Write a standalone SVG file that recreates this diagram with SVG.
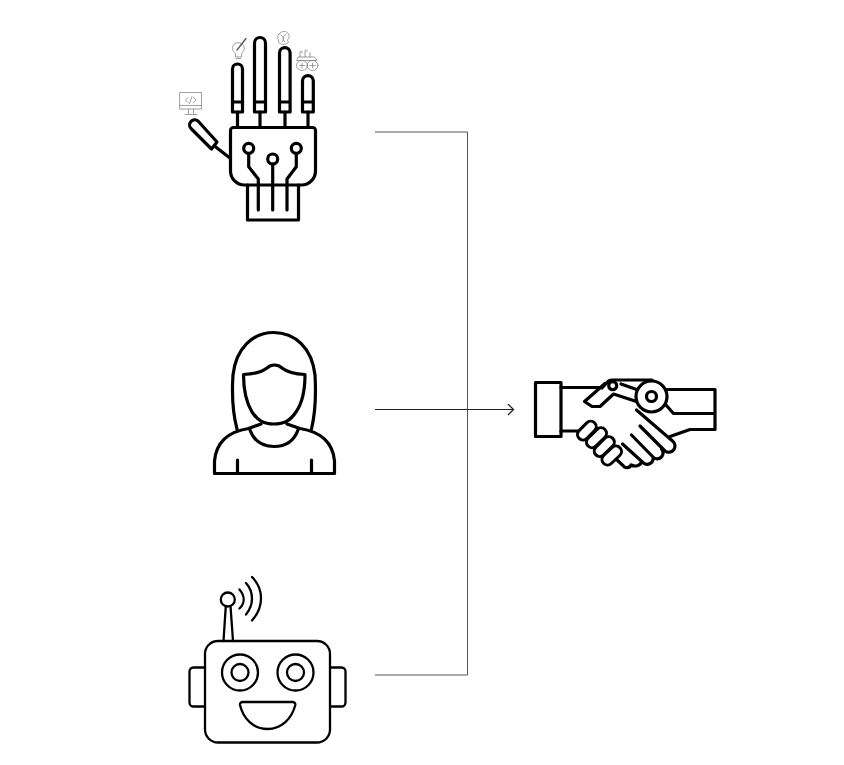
<svg xmlns="http://www.w3.org/2000/svg" width="844" height="765" viewBox="0 0 844 765">
<style>
.i{fill:none;stroke:#000;stroke-width:3.2;stroke-linecap:round;stroke-linejoin:round}
.t{fill:none;stroke:#000;stroke-width:2.3;stroke-linecap:round;stroke-linejoin:round}
.s{fill:none;stroke:#777;stroke-width:.7;stroke-linecap:round;stroke-linejoin:round}
.c{fill:none;stroke:#555;stroke-width:1}
.o{fill:none;stroke:#000;stroke-width:14;stroke-linecap:round}
.w{fill:none;stroke:#fff;stroke-width:8;stroke-linecap:round}
</style>
<defs>
<marker id="arrow" markerWidth="10" markerHeight="12" refX="7" refY="6" orient="auto" markerUnits="userSpaceOnUse"><path d="M2 .5L7.500 6L2 11.500" fill="none" stroke="#222" stroke-width="1.300"/></marker>
</defs>
<rect width="844" height="765" fill="#fff"/>
<g id="connectors">
<path class="c" d="M375 132H467.500V675H375"/>
<path class="c" d="M375 409.500H513" style="stroke:#222" marker-end="url(#arrow)"/>
</g>
<g id="node-hand">
<path class="i" d="M232.500 112V69a5 5 0 0 1 10 0V112ZM232.500 102H242.700"/>
<path class="i" d="M254.500 112V43a5.500 5.500 0 0 1 11 0V112ZM254.500 102H265.500"/>
<path class="i" d="M279.500 112V53a5.300 5.300 0 0 1 10.600 0V112ZM279.500 102H290.100"/>
<path class="i" d="M302.500 112V81a5.400 5.400 0 0 1 10.800 0V112ZM302.500 102H313.300"/>
<path class="i" d="M237.500 112V127.500M260 112V127.500M285 112V127.500M308 112V127.500"/>
<path class="i" d="M233.500 127.500H312.500a3 3 0 0 1 3 3V171a14 14 0 0 1-14 14H244.500a14 14 0 0 1-14-14V130.500a3 3 0 0 1 3-3Z"/>
<path class="i" d="M247.500 185V220H298.500V185"/>
<circle class="i" cx="248.700" cy="148.300" r="5"/><circle class="i" cx="272.700" cy="159" r="5"/><circle class="i" cx="296.300" cy="148.300" r="5"/>
<path class="i" d="M248.700 153.500V166.700L258.300 179V210M272.700 164V210M296.300 153.500V166.700L287 179V210"/>
<path class="i" d="M198 121L217 142L211.500 149L191.500 129a5 5 0 0 1 6.500-8Z"/>
<path class="i" d="M214.500 146L230.500 158.500"/>
<path class="s" d="M180 92.500H201.500V109H180ZM180 105.500H201.500M188.500 109V113.500M193.500 109V113.500M185 114.500H197M188 97.500L185.500 100L188 102.500M193.500 97.500L196 100L193.500 102.500M192 96.500L189.500 103.500"/>
<path class="s" d="M235.500 56.500V53.500C233 51 231.500 48.500 233 45.500C235 42 241 41.500 243.500 45.500C245 48.500 244 51 241.500 53.500V56.500ZM236 58.500H241"/>
<path d="M237 50L246 38.500" fill="none" stroke="#555" stroke-width="1.300" stroke-linecap="round"/>
<path class="s" d="M279 34C282 30 287 31 288.500 34C290 37 289 39 287 40C290 42 287 45 284 44C281 45 278 43 278.500 40C277 38 277.500 35 279 34ZM281 35C284 37 284 40 282 42M286 34C283 36 282 39 285 42"/>
<path class="s" d="M300 57V52C301 50 302 51 302 53M305 57V50.500C306 49 307 50 307 52M310 57V52.500M298.500 57H314.500L317 60.500H297Z"/>
<ellipse class="s" cx="302" cy="65.500" rx="5.500" ry="5"/><ellipse class="s" cx="312.500" cy="65.500" rx="5.500" ry="5"/><path class="s" d="M299.500 65.500H304.500M302 63V68M310 65.500H315M312.500 63V68"/>
</g>
<g id="node-person">
<path class="i" d="M237 429C232 410 232 390 233 375C236 348 253 332.500 273.500 332.500C295 332.500 312 348 315 375C316 392 316 410 311.500 429"/>
<path class="i" d="M243.500 374.500C255 374 262 372 267 368C271 364 278 364 282 368C287 372 294 374 305 374.500C305 388 303 402 296 412C290 421 284 424 274 424C264 424 258 421 252 412C246 402 243.500 388 243.500 374.500Z"/>
<path class="i" d="M261 424L248.500 428.500C226 432 216 444 214.500 461V473.500H334.500V461C333 444 322 432 300 428.500L287 424"/>
<path class="i" d="M250 430C254 441 263 446.500 274 446.500C285 446.500 294 441 298 430M237.500 460V473M311.500 460V473"/>
</g>
<g id="node-robot">
<rect class="t" x="205" y="641" width="125" height="101.500" rx="13"/>
<path class="t" d="M205 667.500H193.500a4 4 0 0 0-4 4V702.500a4 4 0 0 0 4 4H205M330 667.500H341.500a4 4 0 0 1 4 4V702.500a4 4 0 0 1-4 4H330"/>
<circle class="t" cx="240" cy="672.500" r="18"/><circle class="t" cx="240" cy="672.500" r="8.500"/>
<circle class="t" cx="295.500" cy="672.500" r="18"/><circle class="t" cx="295.500" cy="672.500" r="8.500"/>
<path class="t" d="M242.500 702H293a2.500 2.500 0 0 1 2.300 3C292 718 282 729 267.500 729C253 729 243 718 240 705a2.500 2.500 0 0 1 2.500-3Z"/>
<circle class="t" cx="227.800" cy="599.500" r="7"/>
<path class="t" d="M223.500 641L225.800 606M233 641L230.500 606"/>
<path class="t" d="M239.500 589.500C245 596 245 603 239.500 608.500M246 583C254 592 254 605 246 614.500M252 577C264 589 264 607 252 620.500"/>
</g>
<g id="node-handshake">
<rect class="i" x="535.500" y="382.500" width="25.500" height="54"/>
<path class="i" d="M561 387.500H601M561 431H578"/>
<path class="i" d="M666.500 389.500H715V429.500H690L670 436.500M666 405L673.500 413.500H715"/>
<path class="i" d="M602 388L608.500 381C610 380 611 380 612 380H652M621 384L638 390"/>
<path class="i" d="M605 383.500L584.500 401.500L592 406.500H600L613.500 394L636.500 401.500"/>
<circle class="i" cx="612.700" cy="385.700" r="4"/>
<circle class="i" cx="651.500" cy="396.500" r="15.500" style="fill:#fff"/><circle class="i" cx="651.500" cy="396.500" r="5"/>
<path class="i" d="M636.500 410L672.500 441a5.500 5.500 0 0 1-7.500 10L640 426M661.500 449a5.500 5.500 0 0 1-8.500 8L631.500 435M653 457a6 6 0 0 1-9.500 6L622.500 444M642 461.500C640 466 635 467 631 465a4.500 4.500 0 0 1-8 .5L617 460"/>
<g id="human-fingers">
<path class="o" d="M590.700 426.700L583 434.500M601 433.300L592 442.200M608.800 442.200L599.800 451M616 451.500L607.500 459.500"/>
<path class="w" d="M590.700 426.700L583 434.500M601 433.300L592 442.200M608.800 442.200L599.800 451M616 451.500L607.500 459.500"/>
</g>
</g>
</svg>
